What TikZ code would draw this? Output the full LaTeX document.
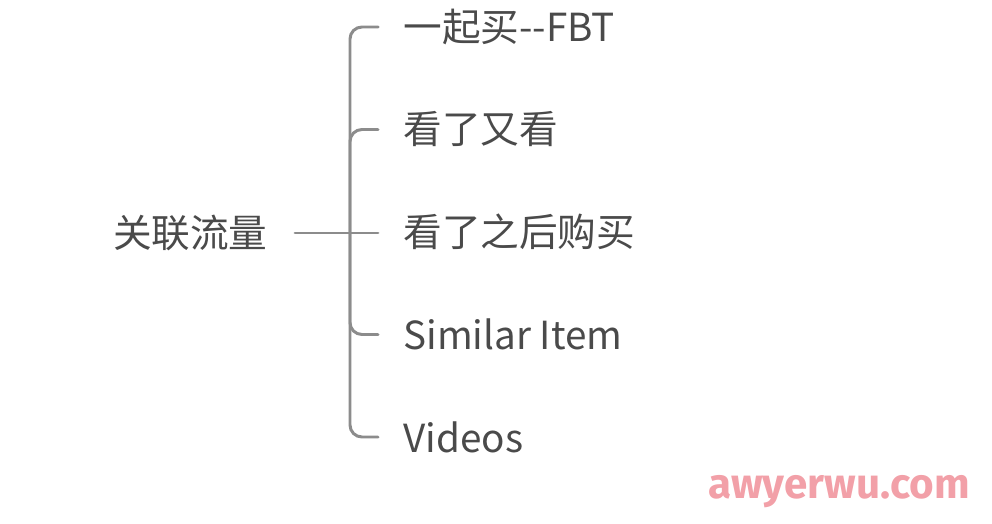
\documentclass[tikz,border=0pt]{standalone}
\usepackage{fontspec}
\setmainfont{Noto Sans CJK SC}
\newfontfamily\markfont{Fira Sans}
\usepackage{tikz}

\definecolor{linegray}{HTML}{8C8C8C}
\definecolor{textgray}{HTML}{4A4A4A}
\definecolor{markpink}{HTML}{F2A0A8}

\tikzset{
  branch/.style={line width=1.7pt, linegray, line cap=round},
  leaf/.style={anchor=west, inner sep=0pt, text=textgray, font=\fontsize{22}{26}\selectfont},
}

\begin{document}
\begin{tikzpicture}[x=0.02cm,y=-0.02cm]
	\useasboundingbox (0,0) rectangle (992,524);

	\node [leaf, anchor=east] (root) at (268,233) {关联流量};

	\foreach \txt [count=\i] in {一起买-{}-FBT, 看了又看, 看了之后购买, Similar Item, Videos} {
		\node [leaf] (c\i) at (403,{27+102.5*(\i-1)}) {\txt};
	}

	\coordinate (spine) at (350,233);

	\draw [branch, shorten <=0.54cm] (root.east) -- ([xshift=-0.5cm]c3.west |- root.east);
	\draw [branch, rounded corners=0.24cm] ([xshift=-0.5cm]c1.west) -| (spine) |- ([xshift=-0.5cm]c5.west);
	\draw [branch, rounded corners=0.24cm] (spine) |- ([xshift=-0.5cm]c2.west);
	\draw [branch, rounded corners=0.24cm] (spine) |- ([xshift=-0.5cm]c4.west);

	\node [anchor=east, inner sep=0pt, text=markpink, font=\markfont\bfseries\fontsize{24}{28}\selectfont] (mark) at (970,492) {awyerwu.com};
\end{tikzpicture}
\end{document}
